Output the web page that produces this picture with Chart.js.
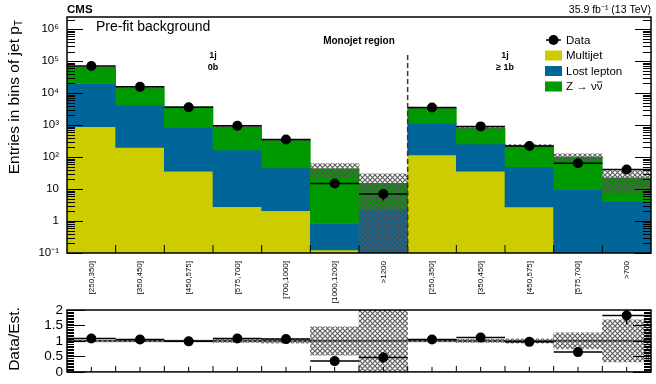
<!DOCTYPE html>
<html>
<head>
<meta charset="utf-8">
<script src="https://cdn.jsdelivr.net/npm/chart.js@4.4.1/dist/chart.umd.min.js"></script>
<style>
  body { margin: 0; background: #fff; }
  #wrap { position: relative; width: 656px; height: 384px; }
  #topChart { position: absolute; left: 0; top: 0; }
  #ratioChart { position: absolute; left: 0; top: 296px; }
</style>
</head>
<body>
<div id="wrap">
  <canvas id="topChart" width="656" height="305"></canvas>
  <canvas id="ratioChart" width="656" height="88"></canvas>
</div>
<script>
// bins: 1j 0b (first 7) then 1j >=1b (last 5)
const binLabels = ['[250,350]', '[350,450]', '[450,575]', '[575,700]', '[700,1000]', '[1000,1200]', '>1200',
                   '[250,350]', '[350,450]', '[450,575]', '[575,700]', '>700'];

// pre-fit background components
const multijet   = [900, 200, 36, 2.8, 2.1, 0.124, 0, 117, 36, 2.76, 0, 0];
const lostLepton = [19100, 4000, 814, 165, 44, 0.71, 2.34, 1013, 222, 46, 9.6, 4];
const zNuNu      = [45000, 10800, 2800, 712, 289, 42.2, 12.7, 2270, 562, 181, 90.4, 18.5];

// observed data and its error
const dataCounts = [70000, 15700, 3600, 950, 355, 15, 7, 3550, 910, 223, 64, 41];
const dataErr    = [265, 125, 60, 31, 19, 3.9, 2.6, 60, 30, 15, 8, 6.4];

// relative background uncertainty (hatched band)
const bkgUnc = [0.03, 0.03, 0.03, 0.05, 0.07, 0.46, 1.0, 0.03, 0.05, 0.07, 0.26, 0.68];

const yTickValues = [0.1, 1, 10, 100, 1e3, 1e4, 1e5, 1e6];
const yTickLabels = ['10⁻¹', '1', '10', '10²', '10³', '10⁴', '10⁵', '10⁶'];
const ratioTickValues = [0, 0.5, 1, 1.5, 2];
const ratioTickLabels = ['0', '0.5', '1', '1.5', '2'];

const legendLabels = ['Data', 'Multijet', 'Lost lepton', 'Z → νν'];

const colMultijet = '#cccc00';
const colLost = '#006699';
const colZnn = '#009900';
const yMin = 0.1, yMax = 2.4e6;
const FONT = "'Liberation Sans', Arial, sans-serif";

Chart.defaults.font.family = FONT;
Chart.defaults.color = '#000';

// stack edges
const llTop = multijet.map((v, i) => v + lostLepton[i]);
const total = llTop.map((v, i) => v + zNuNu[i]);
const ratio = dataCounts.map((v, i) => v / total[i]);

// hatch pattern for the uncertainty band
function makeHatch() {
  const pc = document.createElement('canvas');
  pc.width = 5; pc.height = 5;
  const g = pc.getContext('2d');
  g.strokeStyle = 'rgba(85,85,85,0.95)';
  g.lineWidth = 1.2;
  g.beginPath();
  g.moveTo(-1, -1); g.lineTo(6, 6);
  g.moveTo(6, -1); g.lineTo(-1, 6);
  g.stroke();
  return g.createPattern(pc, 'repeat');
}
const hatch = makeHatch();

function line(ctx, x1, y1, x2, y2) {
  ctx.beginPath(); ctx.moveTo(x1, y1); ctx.lineTo(x2, y2); ctx.stroke();
}

function binHalf(x) {
  return (x.getPixelForValue(1) - x.getPixelForValue(0)) / 2;
}

const barCommon = { grouped: false, barPercentage: 1, categoryPercentage: 1, borderWidth: 0 };

// ---------- top panel ----------
const topDecor = {
  id: 'topDecor',
  afterDatasetsDraw(chart) {
    const ctx = chart.ctx, x = chart.scales.x, y = chart.scales.y;
    const hw = binHalf(x);
    ctx.save();
    ctx.strokeStyle = '#000';
    ctx.lineWidth = 1.5;
    dataCounts.forEach((v, i) => {
      const xc = x.getPixelForValue(i);
      const yc = y.getPixelForValue(v);
      line(ctx, xc - hw, yc, xc + hw, yc);
      line(ctx, xc, y.getPixelForValue(v - dataErr[i]), xc, y.getPixelForValue(v + dataErr[i]));
    });
    ctx.restore();
  },
  afterDraw(chart) {
    const ctx = chart.ctx, a = chart.chartArea, x = chart.scales.x, y = chart.scales.y;
    const hw = binHalf(x);
    ctx.save();
    ctx.strokeStyle = '#000';
    ctx.lineWidth = 1;
    // log ticks on both sides
    for (let e = -1; e <= 6; e++) {
      for (let m = 1; m <= 9; m++) {
        const v = m * Math.pow(10, e);
        if (v < yMin || v > yMax) continue;
        const py = Math.round(y.getPixelForValue(v)) + 0.5;
        const len = m === 1 ? 16 : 8;
        line(ctx, a.left, py, a.left + len, py);
        line(ctx, a.right, py, a.right - len, py);
      }
    }
    // bin edge ticks
    for (let i = 1; i < binLabels.length; i++) {
      const px = x.getPixelForValue(i) - hw;
      line(ctx, px, a.bottom, px, a.bottom - 8);
    }
    // region separator
    ctx.setLineDash([5, 3]);
    ctx.lineWidth = 1.5;
    ctx.strokeStyle = '#333';
    const sx = x.getPixelForValue(6) + hw;
    line(ctx, sx, a.top + 38, sx, a.bottom);
    ctx.setLineDash([]);
    // frame
    ctx.strokeStyle = '#000';
    ctx.lineWidth = 1.5;
    ctx.strokeRect(a.left, a.top, a.right - a.left, a.bottom - a.top);

    // texts
    ctx.fillStyle = '#000';
    ctx.textBaseline = 'alphabetic';
    ctx.font = 'bold 11.5px ' + FONT;
    ctx.textAlign = 'left';
    ctx.fillText('CMS', a.left, 13);
    ctx.font = '10.5px ' + FONT;
    ctx.textAlign = 'right';
    ctx.fillText('35.9 fb⁻¹ (13 TeV)', a.right, 13);
    ctx.textAlign = 'left';
    ctx.font = '14px ' + FONT;
    ctx.fillText('Pre-fit background', a.left + 29, 31);
    ctx.textAlign = 'center';
    ctx.font = 'bold 10px ' + FONT;
    ctx.fillText('Monojet region', (a.left + a.right) / 2, 44);
    ctx.font = 'bold 9px ' + FONT;
    const c0 = (x.getPixelForValue(2) + x.getPixelForValue(3)) / 2;
    const c1 = (x.getPixelForValue(8) + x.getPixelForValue(9)) / 2;
    ctx.fillText('1j', c0, 58);
    ctx.fillText('0b', c0, 70);
    ctx.fillText('1j', c1, 58);
    ctx.fillText('≥ 1b', c1, 70);

    // legend
    const lx = 545, ly = 40, step = 15.5;
    const boxColors = [null, colMultijet, colLost, colZnn];
    ctx.textAlign = 'left';
    ctx.textBaseline = 'middle';
    ctx.font = '11.5px ' + FONT;
    legendLabels.forEach((lab, i) => {
      const cy = ly + i * step;
      if (boxColors[i]) {
        ctx.fillStyle = boxColors[i];
        ctx.fillRect(lx, cy - 5, 17, 10);
      } else {
        ctx.strokeStyle = '#000';
        ctx.lineWidth = 1.5;
        line(ctx, lx + 1, cy, lx + 16, cy);
        ctx.fillStyle = '#000';
        ctx.beginPath(); ctx.arc(lx + 8.5, cy, 5, 0, Math.PI * 2); ctx.fill();
      }
      ctx.fillStyle = '#000';
      ctx.fillText(lab, lx + 21, cy + 0.5);
      if (i === 3) {
        // bar over the antineutrino
        const wAll = ctx.measureText(lab).width;
        const wNu = ctx.measureText('ν').width;
        ctx.strokeStyle = '#000';
        ctx.lineWidth = 0.9;
        line(ctx, lx + 21 + wAll - wNu + 0.5, cy - 4.5, lx + 21 + wAll - 0.3, cy - 4.5);
      }
    });

    // y title with subscript
    ctx.translate(19, a.top + 3);
    ctx.rotate(-Math.PI / 2);
    ctx.textBaseline = 'alphabetic';
    ctx.font = '15.5px ' + FONT;
    const main = 'Entries in bins of jet p';
    const w1 = ctx.measureText(main).width;
    ctx.font = '10px ' + FONT;
    const w2 = ctx.measureText('T').width;
    ctx.font = '15.5px ' + FONT;
    ctx.textAlign = 'left';
    ctx.fillText(main, -(w1 + w2), 0);
    ctx.font = '10px ' + FONT;
    ctx.fillText('T', -w2, 3);
    ctx.restore();
  }
};

new Chart(document.getElementById('topChart'), {
  type: 'bar',
  data: {
    labels: binLabels,
    datasets: [
      { type: 'line', label: 'Data', data: dataCounts, showLine: false, pointRadius: 5,
        pointBackgroundColor: '#000', pointBorderColor: '#000', pointBorderWidth: 0, order: 0 },
      Object.assign({ label: 'Uncertainty', order: 1, backgroundColor: hatch,
        data: total.map((t, i) => [Math.max(t * (1 - bkgUnc[i]), yMin), t * (1 + bkgUnc[i])]) }, barCommon),
      Object.assign({ label: 'Z → νν̄', order: 2, backgroundColor: colZnn,
        data: llTop.map((v, i) => [v, total[i]]) }, barCommon),
      Object.assign({ label: 'Lost lepton', order: 3, backgroundColor: colLost,
        data: multijet.map((v, i) => [Math.max(v, yMin), llTop[i]]) }, barCommon),
      Object.assign({ label: 'Multijet', order: 4, backgroundColor: colMultijet,
        data: multijet.map(v => v > 0 ? [yMin, v] : null) }, barCommon)
    ]
  },
  options: {
    responsive: false,
    animation: false,
    layout: { padding: { top: 17, right: 4, left: 0, bottom: 0 } },
    plugins: { legend: { display: false }, tooltip: { enabled: false } },
    scales: {
      x: {
        type: 'category',
        offset: true,
        grid: { display: false, drawTicks: false },
        border: { display: false },
        ticks: { autoSkip: false, minRotation: 90, maxRotation: 90, padding: 8,
                 font: { size: 8 }, color: '#000' },
        afterFit(s) { s.height = 52; }
      },
      y: {
        type: 'logarithmic',
        min: yMin,
        max: yMax,
        grid: { display: false, drawTicks: false },
        border: { display: false },
        ticks: {
          autoSkip: false,
          padding: 8,
          font: { size: 11.5 },
          color: '#000',
          callback: (v) => {
            const k = yTickValues.findIndex(t => Math.abs(t - v) / t < 1e-6);
            return k >= 0 ? yTickLabels[k] : '';
          }
        },
        afterBuildTicks(s) { s.ticks = yTickValues.map(v => ({ value: v })); },
        afterFit(s) { s.width = 67; }
      }
    }
  },
  plugins: [topDecor]
});

// ---------- ratio panel ----------
const ratioDecor = {
  id: 'ratioDecor',
  afterDatasetsDraw(chart) {
    const ctx = chart.ctx, a = chart.chartArea, x = chart.scales.x, y = chart.scales.y;
    const hw = binHalf(x);
    ctx.save();
    ctx.beginPath();
    ctx.rect(a.left, a.top, a.right - a.left, a.bottom - a.top);
    ctx.clip();
    ctx.strokeStyle = '#000';
    ctx.lineWidth = 1;
    const y1 = y.getPixelForValue(1);
    line(ctx, a.left, y1, a.right, y1);
    ctx.lineWidth = 1.5;
    ratio.forEach((r, i) => {
      const xc = x.getPixelForValue(i);
      const yc = y.getPixelForValue(r);
      const er = dataErr[i] / total[i];
      line(ctx, xc - hw, yc, xc + hw, yc);
      line(ctx, xc, y.getPixelForValue(r - er), xc, y.getPixelForValue(r + er));
    });
    ctx.restore();
  },
  afterDraw(chart) {
    const ctx = chart.ctx, a = chart.chartArea, x = chart.scales.x, y = chart.scales.y;
    const hw = binHalf(x);
    ctx.save();
    ctx.strokeStyle = '#000';
    ctx.lineWidth = 1;
    for (let k = 0; k <= 40; k++) {
      const v = k * 0.05;
      const py = Math.round(y.getPixelForValue(v)) + 0.5;
      const len = k % 10 === 0 ? 18 : 7;
      line(ctx, a.left, py, a.left + len, py);
      line(ctx, a.right, py, a.right - len, py);
    }
    for (let i = 0; i < binLabels.length; i++) {
      const xc = x.getPixelForValue(i);
      line(ctx, xc, a.bottom, xc, a.bottom - 5);
      if (i > 0) line(ctx, xc - hw, a.bottom, xc - hw, a.bottom - 6);
    }
    ctx.lineWidth = 1.5;
    ctx.strokeRect(a.left, a.top, a.right - a.left, a.bottom - a.top);

    // y title
    ctx.fillStyle = '#000';
    ctx.translate(19, (a.top + a.bottom) / 2 - 2);
    ctx.rotate(-Math.PI / 2);
    ctx.textAlign = 'center';
    ctx.textBaseline = 'alphabetic';
    ctx.font = '15.5px ' + FONT;
    ctx.fillText('Data/Est.', 0, 0);
    ctx.restore();
  }
};

new Chart(document.getElementById('ratioChart'), {
  type: 'bar',
  data: {
    labels: binLabels,
    datasets: [
      { type: 'line', label: 'Data/Est.', data: ratio, showLine: false, pointRadius: 5,
        pointBackgroundColor: '#000', pointBorderColor: '#000', pointBorderWidth: 0, order: 0, clip: 6 },
      Object.assign({ label: 'Uncertainty', order: 1, backgroundColor: hatch,
        data: bkgUnc.map(u => [Math.max(1 - u, 0), Math.min(1 + u, 2)]) }, barCommon)
    ]
  },
  options: {
    responsive: false,
    animation: false,
    layout: { padding: { top: 14, right: 4, left: 0, bottom: 8 } },
    plugins: { legend: { display: false }, tooltip: { enabled: false } },
    scales: {
      x: {
        type: 'category',
        offset: true,
        grid: { display: false, drawTicks: false },
        border: { display: false },
        ticks: { display: false },
        afterFit(s) { s.height = 0; }
      },
      y: {
        type: 'linear',
        min: 0,
        max: 2,
        grid: { display: false, drawTicks: false },
        border: { display: false },
        ticks: {
          autoSkip: false,
          padding: 4,
          font: { size: 13.5 },
          color: '#000',
          callback: (v) => {
            const k = ratioTickValues.indexOf(v);
            return k >= 0 ? ratioTickLabels[k] : '';
          }
        },
        afterBuildTicks(s) { s.ticks = ratioTickValues.map(v => ({ value: v })); },
        afterFit(s) { s.width = 67; }
      }
    }
  },
  plugins: [ratioDecor]
});
</script>
</body>
</html>
